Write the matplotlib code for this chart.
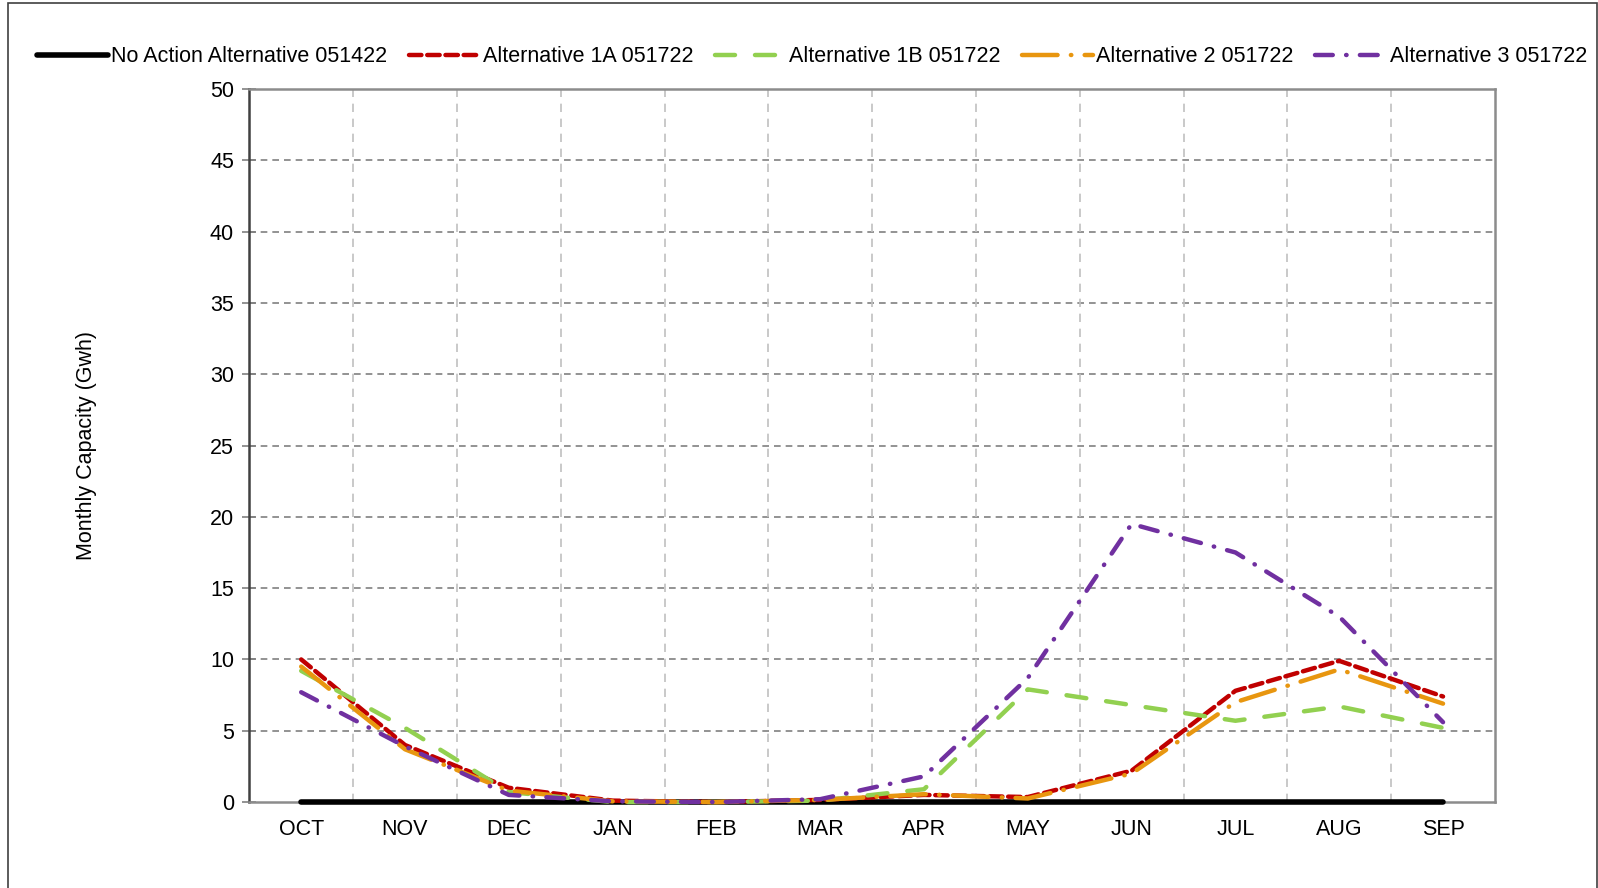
import numpy as np
import matplotlib
matplotlib.use("Agg")
import matplotlib.pyplot as plt
from matplotlib.patches import Rectangle

plt.rcParams['font.family'] = ['Liberation Sans', 'DejaVu Sans']

# data (Gwh)
months = ['OCT', 'NOV', 'DEC', 'JAN', 'FEB', 'MAR', 'APR', 'MAY', 'JUN', 'JUL', 'AUG', 'SEP']
no_action = [0, 0, 0, 0, 0, 0, 0, 0, 0, 0, 0, 0]
alt_1a = [10.0, 4.0, 1.0, 0.1, 0.0, 0.15, 0.5, 0.35, 2.2, 7.8, 9.9, 7.4]
alt_1b = [9.2, 5.2, 0.7, 0.0, 0.0, 0.1, 0.9, 7.9, 6.8, 5.7, 6.7, 5.2]
alt_2 = [9.5, 3.7, 0.8, 0.05, 0.0, 0.15, 0.55, 0.25, 2.0, 7.0, 9.3, 6.9]
alt_3 = [7.7, 3.9, 0.5, 0.05, 0.0, 0.2, 1.8, 8.7, 19.5, 17.5, 13.0, 5.6]

series = [
    ('No Action Alternative 051422', no_action, 'black', '-', 4.0),
    ('Alternative 1A 051722', alt_1a, '#C00000', (0, (2.8, 1.3)), 3.2),
    ('Alternative 1B 051722', alt_1b, '#92D050', (0, (4.5, 4.5)), 3.2),
    ('Alternative 2 051722', alt_2, '#E8960F', (0, (8, 3, 0.1, 3)), 3.2),
    ('Alternative 3 051722', alt_3, '#7030A0', (0, (4, 3, 0.1, 3)), 3.2),
]

fig = plt.figure(figsize=(15.98, 8.88), dpi=100)
ax = fig.add_axes([0.156, 0.0968, 0.7795, 0.803])

x = np.arange(len(months))
for label, vals, color, ls, lw in series:
    ax.plot(x, vals, color=color, linestyle=ls, linewidth=lw, label=label,
            dash_capstyle='round', solid_capstyle='round', clip_on=False, zorder=3)

ax.set_xlim(-0.5, len(months) - 0.5)
ax.set_ylim(0, 50)
ax.set_yticks(np.arange(0, 51, 5))
ax.set_xticks(x)
ax.set_xticklabels(months)
ax.tick_params(axis='x', length=0, pad=12.5, labelsize=15.5)
ax.tick_params(axis='y', direction='inout', length=10, width=1.2, color='#808080',
               pad=6, labelsize=15.5)

# gridlines: horizontal dashed dark, vertical between categories lighter
for yv in np.arange(5, 51, 5):
    ax.axhline(yv, color='#808080', linestyle=(0, (4, 3)), linewidth=1.2, zorder=0)
for xv in np.arange(0.5, len(months) - 1, 1):
    ax.axvline(xv, color='#C0C0C0', linestyle=(0, (5, 4)), linewidth=1.2, zorder=0)

for side in ['top', 'right', 'bottom']:
    ax.spines[side].set_color('#8C8C8C')
    ax.spines[side].set_linewidth(1.8)
ax.spines['left'].set_color('#404040')
ax.spines['left'].set_linewidth(1.8)

ax.set_ylabel('Monthly Capacity (Gwh)', fontsize=15.5)
ax.yaxis.set_label_coords(-0.122, 0.5)

fig.legend(loc='center', bbox_to_anchor=(0.508, 0.936), ncol=5, frameon=False,
           fontsize=15.5, handlelength=3.3, handletextpad=0.15, columnspacing=1.0)

# outer border of the chart area
fig.patches.append(Rectangle((8 / 1598, -0.05), 1589 / 1598, 0.05 + 885 / 888,
                             transform=fig.transFigure, fill=False,
                             edgecolor='#404040', linewidth=1.2))

fig.savefig('out.png', dpi=100)
